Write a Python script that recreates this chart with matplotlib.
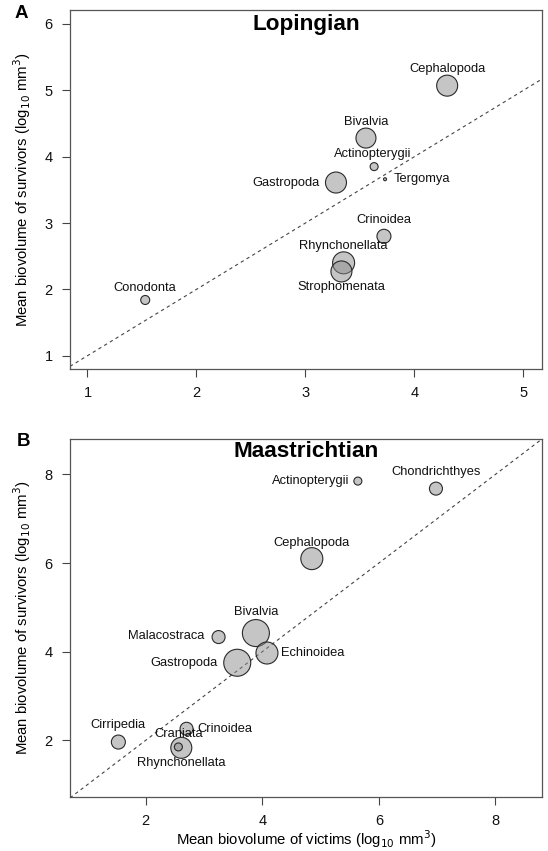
import matplotlib
matplotlib.use("Agg")
import matplotlib.pyplot as plt

plt.rcParams['font.family'] = ['Liberation Sans', 'DejaVu Sans']

# Panel A: Lopingian
lop_taxa = ["Cephalopoda", "Bivalvia", "Actinopterygii", "Tergomya", "Gastropoda",
            "Crinoidea", "Rhynchonellata", "Strophomenata", "Conodonta"]
lop_victims = [4.30, 3.555, 3.63, 3.73, 3.28, 3.72, 3.35, 3.33, 1.53]
lop_survivors = [5.07, 4.28, 3.85, 3.66, 3.61, 2.80, 2.40, 2.27, 1.84]
lop_bubble = [10.5, 10, 4, 1.5, 10.5, 7, 11, 10.5, 4.5]  # relative bubble radius

# Panel B: Maastrichtian
maa_taxa = ["Actinopterygii", "Chondrichthyes", "Cephalopoda", "Bivalvia", "Malacostraca",
            "Echinoidea", "Gastropoda", "Cirripedia", "Crinoidea", "Rhynchonellata", "Craniata"]
maa_victims = [5.64, 6.98, 4.85, 3.89, 3.25, 4.08, 3.57, 1.53, 2.70, 2.61, 2.56]
maa_survivors = [7.85, 7.68, 6.10, 4.42, 4.33, 3.97, 3.75, 1.96, 2.26, 1.83, 1.85]
maa_bubble = [4, 6.5, 11, 13.5, 6.5, 11, 13.5, 7, 6.5, 10.5, 4]

lop_xticks = [1, 2, 3, 4, 5]
lop_yticks = [1, 2, 3, 4, 5, 6]
maa_ticks = [2, 4, 6, 8]

# label placement: (dx, dy in points, ha) with va='center'
lop_lab = {
    "Cephalopoda": (0, 12, 'center'),
    "Bivalvia": (0, 11.5, 'center'),
    "Actinopterygii": (-1, 9, 'center'),
    "Tergomya": (6.5, 0, 'left'),
    "Gastropoda": (-11.5, 0, 'right'),
    "Crinoidea": (0, 12, 'center'),
    "Rhynchonellata": (0, 12, 'center'),
    "Strophomenata": (0, -11.5, 'center'),
    "Conodonta": (0, 8.5, 'center'),
}
maa_lab = {
    "Actinopterygii": (-6, 0, 'right'),
    "Chondrichthyes": (0, 12, 'center'),
    "Cephalopoda": (0, 11.5, 'center'),
    "Bivalvia": (0, 15, 'center'),
    "Malacostraca": (-10.3, 0.5, 'right'),
    "Echinoidea": (9.8, 0, 'left'),
    "Gastropoda": (-13.8, 0, 'right'),
    "Cirripedia": (0, 12, 'center'),
    "Crinoidea": (7.5, 0, 'left'),
    "Rhynchonellata": (0, -11, 'center'),
    "Craniata": (0, 9, 'center'),
}

W, H = 548, 851
fig = plt.figure(figsize=(W / 100, H / 100), dpi=100)

ax1 = fig.add_axes([70 / W, 1 - 369 / H, 472 / W, 359 / H])
ax2 = fig.add_axes([70 / W, 1 - 797 / H, 472 / W, 358 / H])

px2pt = 0.72

def draw(ax, taxa, xs, ys, rad, labs, xlim, ylim, xt, yt, title, title_y):
    ax.set_xlim(*xlim)
    ax.set_ylim(*ylim)
    ax.plot(xlim, xlim, ls=(0, (3, 3)), color='#444444', lw=0.8, zorder=1)
    sizes = [(2 * r * px2pt) ** 2 for r in rad]
    ax.scatter(xs, ys, s=sizes, facecolor=(0.55, 0.55, 0.55, 0.5),
               edgecolor='#2a2a2a', linewidth=0.8, zorder=3)
    for t, x, y in zip(taxa, xs, ys):
        dx, dy, ha = labs[t]
        ax.annotate(t, (x, y), xytext=(dx, dy), textcoords='offset points',
                    ha=ha, va='center', fontsize=9.3, color='#111111', zorder=4)
    ax.set_xticks(xt)
    ax.set_yticks(yt)
    ax.tick_params(direction='out', length=5.5, width=0.8, color='#444444',
                   labelsize=10.5, pad=7, labelcolor='#111111')
    for s in ax.spines.values():
        s.set_color('#555555')
        s.set_linewidth(0.9)
    ax.text(0.5, title_y, title, transform=ax.transAxes, ha='center', va='center',
            fontsize=16.2, fontweight='bold')
    ax.set_ylabel('Mean biovolume of survivors (log$_{10}$ mm$^3$)', fontsize=10.7)
    ax.yaxis.set_label_coords(-48 / 472, 0.5)
    ax.yaxis.label.set_verticalalignment('center')

draw(ax1, lop_taxa, lop_victims, lop_survivors, lop_bubble, lop_lab,
     (0.84, 5.17), (0.80, 6.21), lop_xticks, lop_yticks, 'Lopingian', 0.961)
draw(ax2, maa_taxa, maa_victims, maa_survivors, maa_bubble, maa_lab,
     (0.70, 8.80), (0.72, 8.80), maa_ticks, maa_ticks, 'Maastrichtian', 0.965)
ax2.set_xlabel('Mean biovolume of victims (log$_{10}$ mm$^3$)', fontsize=10.7)
ax2.xaxis.set_label_coords(0.5, -42 / 358)
ax2.xaxis.label.set_verticalalignment('center')

fig.text(15 / W, 1 - 13 / H, 'A', fontsize=13.5, fontweight='bold', ha='left', va='center')
fig.text(17 / W, 1 - 441 / H, 'B', fontsize=13.5, fontweight='bold', ha='left', va='center')

fig.savefig('out.png', dpi=100)
